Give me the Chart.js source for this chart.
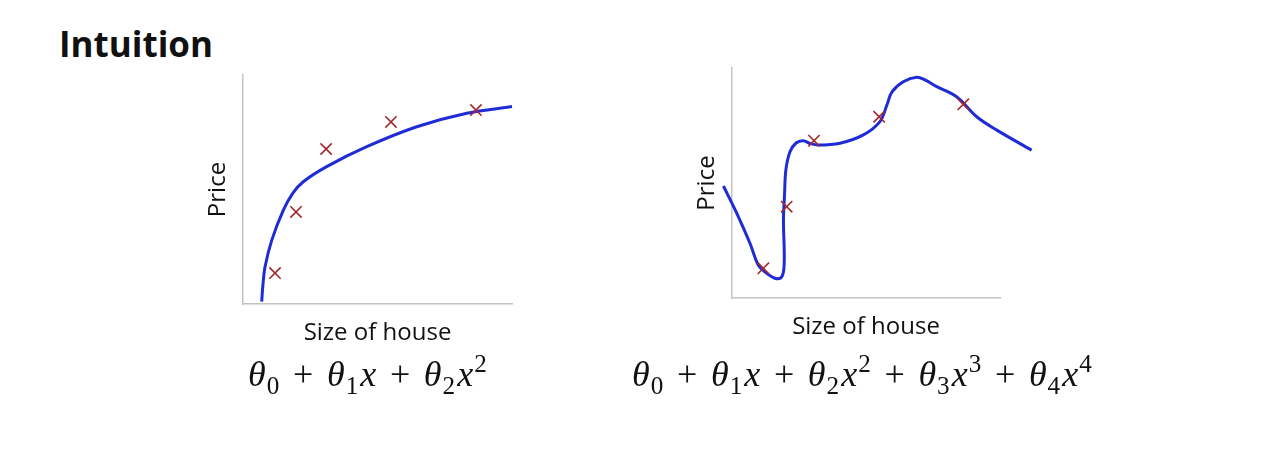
<!DOCTYPE html>
<html>
<head>
<meta charset="utf-8">
<script src="https://cdn.jsdelivr.net/npm/chart.js@4/dist/chart.umd.min.js"></script>
<style>
  html, body { margin: 0; padding: 0; background: #fff; }
  body { width: 1280px; height: 469px; position: relative; overflow: hidden; }
  #title { position: absolute; left: 59px; top: 26px; font: bold 35px "Open Sans", sans-serif; line-height: 1; color: #111; }
  .box { position: absolute; }
  #leftBox { left: 190px; top: 60px; width: 340px; height: 300px; }
  #rightBox { left: 680px; top: 55px; width: 370px; height: 300px; }
  .formula { position: absolute; font: 36px "Liberation Serif", serif; line-height: 1; color: #111; white-space: nowrap; }
  .formula i { font-style: italic; }
  .formula i.v { margin-left: 2px; }
  .formula sub, .formula sup { font-size: 0.7em; line-height: 0; }
  .formula sub { vertical-align: -0.3em; margin-left: 1px; }
  .formula sup { vertical-align: 0.55em; margin-left: 1px; }
  .formula .op { margin: 0 0.38em; }
  #leftFormula { left: 248px; top: 356px; }
  #rightFormula { left: 632px; top: 356px; }
</style>
</head>
<body>
<div id="title">Intuition</div>
<div class="box" id="leftBox"><canvas id="leftChart"></canvas></div>
<div class="box" id="rightBox"><canvas id="rightChart"></canvas></div>
<div class="formula" id="leftFormula"><i>θ</i><sub>0</sub><span class="op">+</span><i>θ</i><sub>1</sub><i class="v">x</i><span class="op">+</span><i>θ</i><sub>2</sub><i class="v">x</i><sup>2</sup></div>
<div class="formula" id="rightFormula"><i>θ</i><sub>0</sub><span class="op">+</span><i>θ</i><sub>1</sub><i class="v">x</i><span class="op">+</span><i>θ</i><sub>2</sub><i class="v">x</i><sup>2</sup><span class="op">+</span><i>θ</i><sub>3</sub><i class="v">x</i><sup>3</sup><span class="op">+</span><i>θ</i><sub>4</sub><i class="v">x</i><sup>4</sup></div>
<script>
// training examples (same houses in both plots)
const leftPointsX = [11.9, 19.7, 30.9, 55.0, 86.6];
const leftPointsY = [13.5, 40.2, 67.7, 79.5, 84.7];
const rightPointsX = [11.7, 20.4, 30.6, 54.9, 86.3];
const rightPointsY = [12.9, 39.7, 68.4, 78.8, 84.2];

// quadratic fit
const leftCurveX = [6.95, 7.4, 8.2, 10.7, 15.0, 18.6, 22.4, 31.1, 46.0, 64.6, 83.2, 100];
const leftCurveY = [1.0, 8.3, 16.3, 27.9, 41.0, 48.5, 53.4, 60.0, 68.7, 77.4, 83.3, 86.2];

// 4th order fit
const rightCurveX = [-3.2, 1.8, 6.7, 9.8, 12.3, 16.0, 18.3, 19.3, 19.5, 19.2, 19.6, 20.1, 21.6, 23.9, 26.6, 29.1, 32.1, 40.3, 49.0, 55.2, 57.8, 59.7, 63.9, 68.9, 72.0, 76.4, 83.8, 91.3, 98.8, 111.8];
const rightCurveY = [48.7, 36.8, 23.8, 14.3, 11.3, 8.6, 8.9, 12.2, 19.4, 33.9, 44.8, 55.7, 63.5, 67.4, 68.4, 67.2, 66.5, 67.3, 70.9, 76.7, 83.9, 89.6, 94.0, 96.0, 94.8, 91.9, 87.5, 78.8, 73.0, 64.3];

const xTitle = "Size of house";
const yTitle = "Price";

const zip = (xs, ys) => xs.map((x, i) => ({ x: x, y: ys[i] }));

const axisFont = { family: "Open Sans", size: 24 };

function makeChart(el, pts, curve, pad) {
  return new Chart(document.getElementById(el), {
    type: "scatter",
    data: {
      datasets: [
        {
          data: curve,
          showLine: true,
          borderColor: "#1f2bd6",
          borderWidth: 3,
          pointRadius: 0,
          tension: 0.35,
          clip: false,
          order: 2,
        },
        {
          data: pts,
          pointStyle: "crossRot",
          pointRadius: 8,
          borderColor: "#a3282c",
          borderWidth: 1.6,
          order: 1,
        },
      ],
    },
    options: {
      responsive: true,
      maintainAspectRatio: false,
      animation: false,
      layout: { padding: pad.layout },
      plugins: { legend: { display: false }, tooltip: { enabled: false } },
      scales: {
        x: {
          min: 0,
          max: 100,
          grid: { display: false, drawTicks: false },
          border: { color: "#c4c4c4", width: 1.5 },
          ticks: { display: false },
          title: { display: true, text: xTitle, color: "#111", font: axisFont, padding: pad.x },
        },
        y: {
          min: 0,
          max: 100,
          grid: { display: false, drawTicks: false },
          border: { color: "#c4c4c4", width: 1.5 },
          ticks: { display: false },
          title: { display: true, text: yTitle, color: "#111", font: axisFont, padding: pad.y },
        },
      },
    },
  });
}

makeChart("leftChart", zip(leftPointsX, leftPointsY), zip(leftCurveX, leftCurveY), {
  layout: { left: 0, top: 15, right: 18, bottom: 0 },
  x: { top: 14.6, bottom: 12.6 },
  y: { top: 13.6, bottom: 10.6 },
});

makeChart("rightChart", zip(rightPointsX, rightPointsY), zip(rightCurveX, rightCurveY), {
  layout: { left: 0, top: 13, right: 50, bottom: 0 },
  x: { top: 14.6, bottom: 13.6 },
  y: { top: 12.6, bottom: 10.6 },
});
</script>
</body>
</html>
